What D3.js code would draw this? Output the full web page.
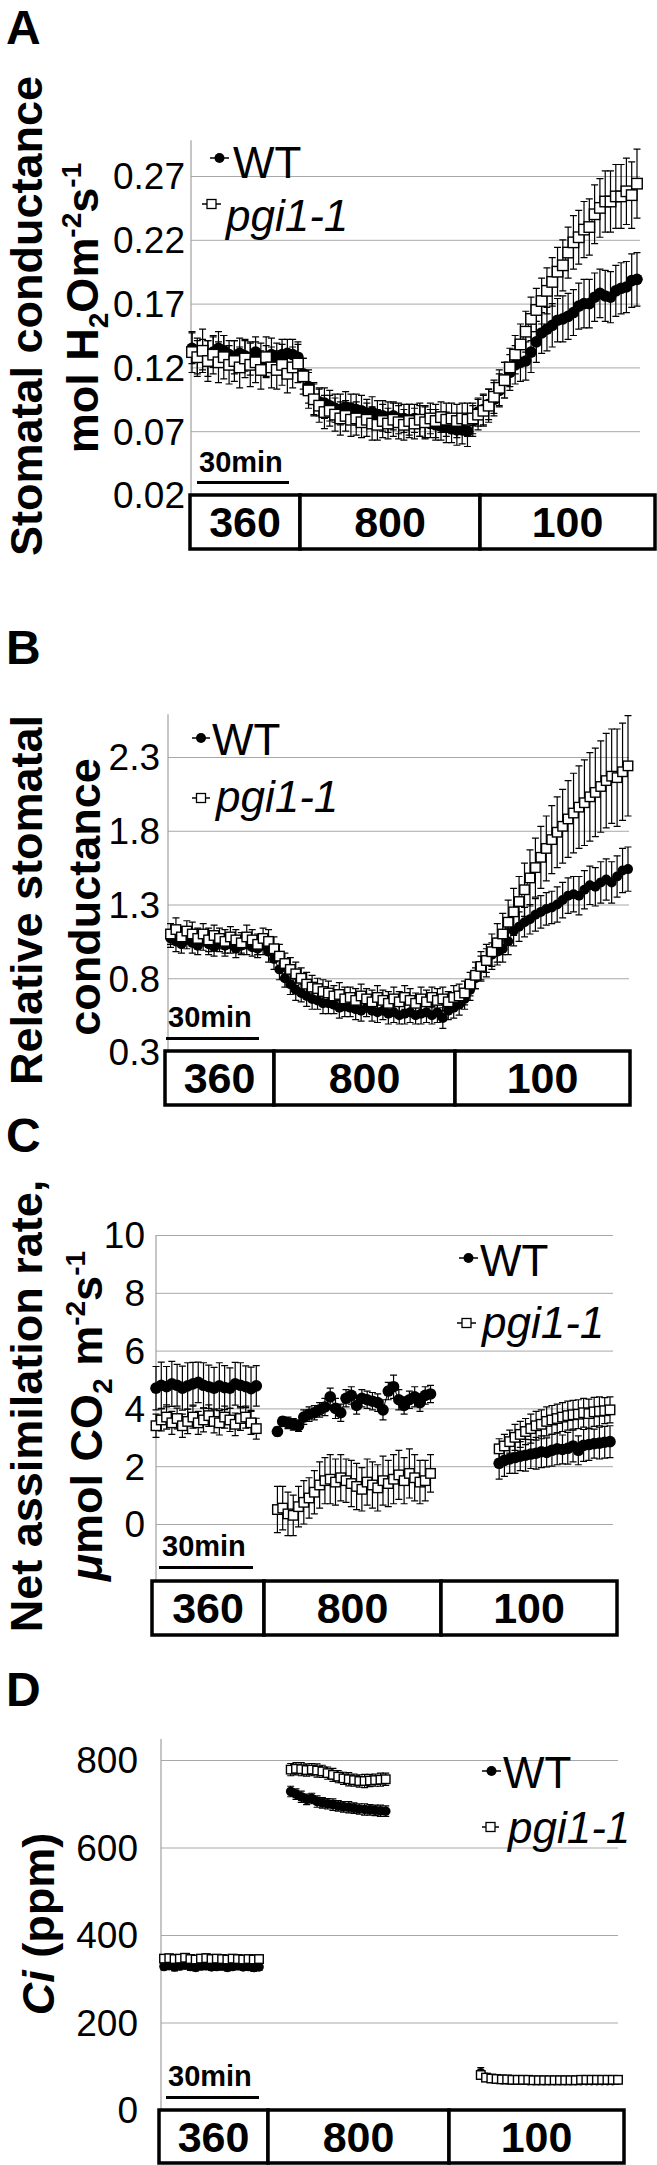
<!DOCTYPE html>
<html><head><meta charset="utf-8">
<script src="https://cdn.jsdelivr.net/npm/d3@7"></script>
<style>body{margin:0;background:#fff}svg{display:block}</style>
</head><body><svg id="c" width="657" height="2165"></svg>
<script>
// ---------------- DATA ----------------
const co2Labels = ["360", "800", "100"];
const seriesNames = ["WT", "pgi1-1"];
const ticksA = [0.02, 0.07, 0.12, 0.17, 0.22, 0.27];
const ticksB = [0.3, 0.8, 1.3, 1.8, 2.3];
const ticksC = [0, 2, 4, 6, 8, 10];
const ticksD = [0, 200, 400, 600, 800];

// Panel A: stomatal conductance (85 samples)
const A_wt = [0.135,0.128,0.130,0.127,0.132,0.135,0.133,0.130,0.128,0.131,0.129,0.127,0.132,0.128,0.125,0.130,0.127,0.130,0.131,0.130,0.128,
0.115,0.105,0.095,0.093,0.092,0.090,0.088,0.087,0.089,0.088,0.087,0.086,0.084,0.085,0.083,0.082,0.081,0.082,0.080,0.080,0.079,0.080,0.078,0.077,0.076,0.075,0.074,0.073,0.072,0.071,0.071,0.070,0.078,0.085,
0.087,0.091,0.095,0.102,0.110,0.116,0.122,0.124,0.125,0.132,0.140,0.147,0.150,0.153,0.157,0.158,0.160,0.163,0.168,0.170,0.170,0.175,0.178,0.176,0.175,0.180,0.182,0.183,0.188,0.189];
const A_wt_err = [0.012,0.013,0.012,0.014,0.012,0.013,0.012,0.011,0.013,0.012,0.012,0.013,0.012,0.011,0.012,0.013,0.012,0.012,0.011,0.012,0.012,
0.012,0.013,0.012,0.011,0.012,0.012,0.011,0.012,0.012,0.011,0.012,0.012,0.011,0.012,0.011,0.012,0.012,0.011,0.012,0.011,0.012,0.011,0.012,0.012,0.011,0.012,0.011,0.012,0.011,0.012,0.011,0.012,0.012,0.011,
0.012,0.012,0.013,0.013,0.014,0.014,0.015,0.015,0.015,0.016,0.016,0.016,0.017,0.017,0.017,0.018,0.018,0.018,0.018,0.019,0.019,0.019,0.019,0.020,0.020,0.020,0.020,0.020,0.021,0.021];
const A_pgi = [0.132,0.128,0.133,0.125,0.130,0.124,0.128,0.122,0.125,0.120,0.127,0.122,0.124,0.118,0.128,0.120,0.118,0.122,0.115,0.120,0.123,
0.113,0.102,0.095,0.090,0.085,0.086,0.083,0.080,0.082,0.079,0.080,0.077,0.079,0.076,0.075,0.078,0.076,0.079,0.077,0.075,0.078,0.076,0.079,0.077,0.080,0.078,0.081,0.079,0.080,0.078,0.080,0.079,0.080,0.083,
0.086,0.090,0.097,0.104,0.110,0.120,0.130,0.138,0.148,0.158,0.165,0.172,0.180,0.187,0.195,0.200,0.210,0.218,0.222,0.228,0.230,0.240,0.245,0.250,0.250,0.254,0.254,0.258,0.255,0.264];
const A_pgi_err = [0.016,0.015,0.017,0.016,0.015,0.016,0.017,0.015,0.016,0.016,0.015,0.017,0.016,0.015,0.016,0.016,0.015,0.016,0.015,0.016,0.015,
0.014,0.014,0.013,0.013,0.013,0.012,0.013,0.013,0.012,0.013,0.013,0.012,0.013,0.013,0.012,0.013,0.012,0.013,0.013,0.012,0.013,0.012,0.013,0.013,0.012,0.013,0.012,0.013,0.012,0.013,0.012,0.013,0.012,0.012,
0.012,0.013,0.013,0.014,0.014,0.015,0.015,0.016,0.016,0.017,0.017,0.018,0.018,0.019,0.019,0.020,0.020,0.021,0.021,0.022,0.022,0.023,0.023,0.024,0.024,0.025,0.025,0.026,0.026,0.027];

// Panel B: relative stomatal conductance (85 samples)
const B_wt = [1.07,1.05,1.03,1.06,1.04,1.02,1.05,1.03,1.01,1.04,1.02,1.03,1.00,1.02,1.03,1.01,1.00,1.02,0.98,
0.93,0.86,0.80,0.76,0.72,0.70,0.68,0.66,0.65,0.63,0.63,0.62,0.60,0.61,0.60,0.59,0.58,0.60,0.58,0.57,0.58,0.56,0.57,0.55,0.56,0.57,0.55,0.56,0.57,0.55,0.57,0.53,0.58,0.60,0.62,0.66,
0.72,0.80,0.87,0.92,0.96,0.98,1.00,1.05,1.12,1.15,1.18,1.20,1.23,1.25,1.27,1.28,1.30,1.33,1.36,1.37,1.36,1.40,1.43,1.42,1.45,1.47,1.45,1.49,1.53,1.54];
const B_wt_err = [0.06,0.07,0.06,0.06,0.07,0.06,0.06,0.07,0.06,0.06,0.07,0.06,0.06,0.06,0.07,0.06,0.06,0.06,0.07,
0.07,0.07,0.06,0.07,0.07,0.06,0.07,0.07,0.06,0.07,0.07,0.06,0.07,0.07,0.06,0.07,0.07,0.06,0.07,0.07,0.06,0.07,0.07,0.06,0.07,0.07,0.06,0.07,0.07,0.06,0.07,0.07,0.06,0.07,0.07,0.07,
0.07,0.07,0.08,0.08,0.08,0.09,0.09,0.09,0.10,0.10,0.10,0.10,0.11,0.11,0.11,0.11,0.12,0.12,0.12,0.12,0.13,0.13,0.13,0.13,0.14,0.14,0.14,0.14,0.15,0.15];
const B_pgi = [1.10,1.13,1.08,1.12,1.10,1.07,1.10,1.06,1.09,1.07,1.05,1.08,1.06,1.04,1.08,1.06,1.03,1.07,1.05,
1.00,0.95,0.90,0.86,0.83,0.80,0.76,0.74,0.73,0.71,0.70,0.68,0.69,0.66,0.67,0.65,0.68,0.66,0.64,0.67,0.65,0.63,0.66,0.64,0.67,0.65,0.63,0.66,0.64,0.67,0.65,0.66,0.64,0.67,0.68,0.70,
0.76,0.82,0.88,0.92,0.98,1.04,1.10,1.18,1.25,1.32,1.40,1.48,1.55,1.62,1.68,1.74,1.79,1.83,1.88,1.92,1.96,1.99,2.03,2.06,2.10,2.14,2.17,2.16,2.20,2.24];
const B_pgi_err = [0.07,0.08,0.07,0.07,0.08,0.07,0.07,0.08,0.07,0.07,0.08,0.07,0.07,0.07,0.08,0.07,0.07,0.07,0.08,
0.08,0.08,0.07,0.08,0.08,0.07,0.08,0.08,0.07,0.08,0.08,0.07,0.08,0.08,0.07,0.08,0.08,0.07,0.08,0.08,0.07,0.08,0.08,0.07,0.08,0.08,0.07,0.08,0.08,0.07,0.08,0.08,0.07,0.08,0.08,0.08,
0.08,0.09,0.10,0.11,0.12,0.13,0.14,0.15,0.16,0.17,0.18,0.19,0.20,0.21,0.22,0.23,0.24,0.25,0.26,0.27,0.28,0.29,0.30,0.30,0.31,0.32,0.32,0.33,0.33,0.34];

// Panel C: net assimilation rate, three separate segments (start sample index of each)
const C_segStart = [0, 23, 65];
const C_wt = [
 [4.70,4.80,4.75,4.85,4.80,4.70,4.78,4.85,4.90,4.80,4.75,4.70,4.78,4.72,4.70,4.85,4.80,4.75,4.68,4.78],
 [3.20,3.55,3.50,3.45,3.40,3.70,3.80,3.85,3.95,4.05,4.40,4.00,3.85,4.35,4.45,4.10,4.35,4.30,4.25,4.20,3.95,4.60,4.75,4.30,4.10,4.30,4.40,4.20,4.45,4.50],
 [2.10,2.20,2.25,2.30,2.35,2.38,2.42,2.45,2.50,2.48,2.55,2.60,2.58,2.62,2.70,2.55,2.72,2.75,2.78,2.80,2.83,2.85]];
const C_wt_err = [
 [0.75,0.80,0.70,0.78,0.72,0.76,0.80,0.74,0.70,0.78,0.75,0.72,0.80,0.76,0.70,0.74,0.78,0.72,0.75,0.70],
 [0.15,0.15,0.20,0.20,0.20,0.25,0.25,0.25,0.25,0.30,0.30,0.35,0.30,0.30,0.30,0.30,0.30,0.30,0.30,0.30,0.35,0.30,0.40,0.35,0.30,0.30,0.35,0.30,0.30,0.30],
 [0.55,0.55,0.50,0.55,0.50,0.55,0.50,0.55,0.55,0.50,0.55,0.55,0.50,0.55,0.55,0.50,0.55,0.55,0.50,0.55,0.55,0.55]];
const C_pgi = [
 [3.40,3.60,3.70,3.50,3.65,3.40,3.55,3.70,3.50,3.60,3.75,3.55,3.50,3.70,3.60,3.45,3.65,3.70,3.50,3.30],
 [0.50,0.55,0.35,0.30,0.60,0.75,0.90,1.10,1.35,1.50,1.55,1.45,1.60,1.50,1.40,1.30,1.20,1.45,1.35,1.25,1.50,1.40,1.55,1.70,1.50,1.75,1.60,1.45,1.50,1.75],
 [2.60,2.70,2.85,3.00,3.10,3.20,3.30,3.40,3.45,3.55,3.60,3.65,3.70,3.75,3.78,3.80,3.85,3.82,3.88,3.90,3.92,3.95]];
const C_pgi_err = [
 [0.40,0.38,0.42,0.40,0.36,0.40,0.42,0.38,0.40,0.41,0.37,0.40,0.42,0.38,0.40,0.39,0.41,0.38,0.40,0.36],
 [0.80,0.75,0.75,0.70,0.70,0.75,0.70,0.75,0.80,0.80,0.85,0.80,0.80,0.75,0.80,0.80,0.75,0.80,0.80,0.80,0.85,0.80,0.85,0.85,0.80,0.85,0.80,0.75,0.70,0.65],
 [0.35,0.40,0.40,0.45,0.45,0.45,0.50,0.50,0.50,0.50,0.50,0.50,0.50,0.50,0.50,0.50,0.50,0.50,0.50,0.50,0.45,0.45]];

// Panel D: Ci (ppm), three segments
const D_segStart = [0, 24, 60];
const D_wt = [
 [328,330,327,329,331,328,326,329,330,327,328,329,326,328,330,327,328,326,327],
 [728,722,716,710,712,705,702,700,698,695,693,692,690,688,687,686,685,684,683],
 [85,75,72,70,69,69,68,68,68,67,67,67,67,67,67,67,67,67,67,67,67,67,67,67,67,67,68]];
const D_wt_err = [
 [8,8,9,8,8,9,8,8,9,8,8,9,8,8,9,8,8,9,8],
 [12,12,13,12,12,13,12,12,13,12,12,13,12,12,13,12,12,13,12],
 [12,8,6,6,5,5,5,5,5,5,5,5,5,5,5,5,5,5,5,5,5,5,5,5,5,5,5]];
const D_pgi = [
 [346,347,345,346,348,345,344,346,347,345,346,345,344,346,345,344,345,344,345],
 [778,780,779,777,778,776,774,770,766,762,758,756,754,752,752,753,754,755,756],
 [80,74,72,71,70,70,69,69,69,69,68,68,68,68,68,68,68,68,68,69,69,69,69,69,69,69,69]];
const D_pgi_err = [
 [9,9,10,9,9,10,9,9,10,9,9,10,9,9,10,9,9,10,9],
 [14,14,15,14,14,15,14,14,15,14,14,15,14,14,15,14,14,15,14],
 [10,7,6,6,6,6,6,6,6,6,6,6,6,6,6,6,6,6,6,6,6,6,6,6,6,6,6]];

// ---------------- DRAWING ----------------
const FONT = '"Liberation Sans", Arial, Helvetica, sans-serif';
const svg = d3.select('#c');

function segs(starts, vals, errs) {
  return vals.map((arr, s) => arr.map((v, i) => ({i: starts[s] + i, v: v, e: errs[s][i]})));
}
function contSeg(vals, errs) {
  return [vals.map((v, i) => ({i: i, v: v, e: errs[i]}))];
}

function drawSeries(g, x, y, segments, type, ms) {
  const sg = g.append('g');
  segments.forEach(seg => {
    sg.append('g').selectAll('path').data(seg).join('path')
      .attr('d', d => {
        const cx = x(d.i), t = y(d.v + d.e), b = y(d.v - d.e);
        return `M${cx},${t}V${b}M${cx - 3.5},${t}h7M${cx - 3.5},${b}h7`;
      })
      .attr('stroke', '#000').attr('stroke-width', 1.2).attr('fill', 'none');
    sg.append('path').datum(seg)
      .attr('d', d3.line().x(d => x(d.i)).y(d => y(d.v)))
      .attr('stroke', '#000').attr('stroke-width', 1).attr('fill', 'none');
    if (type === 'wt') {
      sg.append('g').selectAll('circle').data(seg).join('circle')
        .attr('cx', d => x(d.i)).attr('cy', d => y(d.v)).attr('r', ms.r).attr('fill', '#000');
    } else {
      sg.append('g').selectAll('rect').data(seg).join('rect')
        .attr('x', d => x(d.i) - ms.s / 2).attr('y', d => y(d.v) - ms.s / 2)
        .attr('width', ms.s).attr('height', ms.s)
        .attr('fill', '#fff').attr('stroke', '#000').attr('stroke-width', 1.4);
    }
  });
}

function drawPanel(P) {
  const g = svg.append('g');
  const y = d3.scaleLinear().domain([P.ticks[0], P.ticks[P.ticks.length - 1]]).range(P.yRange);
  const x = d3.scaleLinear().domain(P.xDomain).range(P.xRange);

  // gridlines + tick labels through d3 axis
  const ax = g.append('g').attr('transform', `translate(${P.axisX},0)`)
    .call(d3.axisLeft(y).tickValues(P.ticks).tickFormat(P.fmt)
      .tickSizeInner(-(P.gridRight - P.axisX)).tickSizeOuter(0).tickPadding(P.pad));
  ax.select('.domain').remove();
  ax.attr('font-family', FONT).attr('font-size', 37);
  ax.selectAll('.tick line').attr('stroke', '#a8a8a8').attr('stroke-width', 1);
  ax.selectAll('.tick text').attr('fill', '#000').attr('dy', '0.35em');
  // axis line
  g.append('line').attr('x1', P.axisX).attr('x2', P.axisX)
    .attr('y1', y(P.axisTop)).attr('y2', y(P.axisBottom))
    .attr('stroke', '#a0a0a0').attr('stroke-width', 1.2);

  // series
  drawSeries(g, x, y, P.wt, 'wt', P.ms);
  drawSeries(g, x, y, P.pgi, 'pgi', P.ms);

  // panel letter
  g.append('text').attr('x', 6).attr('y', P.letterY).text(P.letter)
    .attr('font-family', FONT).attr('font-weight', 'bold').attr('font-size', 48);

  // y-axis title lines
  P.titles.forEach(t => {
    const tx = g.append('text').attr('transform', `translate(${t.x},${t.y}) rotate(-90)`)
      .attr('text-anchor', 'middle').attr('font-family', FONT).attr('font-weight', 'bold')
      .attr('font-size', 45);
    t.parts.forEach(p => {
      const ts = tx.append('tspan').text(p.t);
      if (p.it) ts.attr('font-style', 'italic');
      if (p.sub) ts.attr('font-size', 28).attr('dy', 10);
      if (p.sup) ts.attr('font-size', 28).attr('dy', -17);
      if (p.back) ts.attr('dy', p.back);
    });
  });

  // legend
  const Lg = P.legend;
  [0, 1].forEach(k => {
    const it = Lg[k];
    g.append('line').attr('x1', it.x1).attr('x2', it.x2).attr('y1', it.my).attr('y2', it.my)
      .attr('stroke', '#000').attr('stroke-width', 1.5);
    const cx = (it.x1 + it.x2) / 2;
    if (k === 0) g.append('circle').attr('cx', cx).attr('cy', it.my).attr('r', 5).attr('fill', '#000');
    else g.append('rect').attr('x', cx - 4.5).attr('y', it.my - 4.5).attr('width', 9).attr('height', 9)
      .attr('fill', '#fff').attr('stroke', '#000').attr('stroke-width', 1.3);
    g.append('text').attr('x', it.tx).attr('y', it.ty).text(seriesNames[k])
      .attr('font-family', FONT).attr('font-size', 44).attr('font-style', k === 1 ? 'italic' : 'normal');
  });

  // 30 min scale bar
  g.append('text').attr('x', P.bar.tx).attr('y', P.bar.ty).text('30min')
    .attr('font-family', FONT).attr('font-weight', 'bold').attr('font-size', 29);
  g.append('rect').attr('x', P.bar.x).attr('y', P.bar.y).attr('width', P.bar.w).attr('height', 3).attr('fill', '#000');

  // CO2 condition box
  const B = P.box;
  g.selectAll('rect.cell').data(co2Labels).join('rect').attr('class', 'cell')
    .attr('x', (d, i) => B.xs[i]).attr('y', B.top)
    .attr('width', (d, i) => B.xs[i + 1] - B.xs[i]).attr('height', B.bottom - B.top)
    .attr('fill', '#fff').attr('stroke', '#000').attr('stroke-width', 3.5);
  g.selectAll('text.cell').data(co2Labels).join('text').attr('class', 'cell')
    .attr('x', (d, i) => (B.xs[i] + B.xs[i + 1]) / 2).attr('y', (B.top + B.bottom) / 2 + 15)
    .attr('text-anchor', 'middle').attr('font-family', FONT).attr('font-weight', 'bold')
    .attr('font-size', 43).text(d => d);
}

const panels = [
 { letter: 'A', letterY: 44, ticks: ticksA, fmt: d3.format('.2f'), yRange: [495, 176], axisTop: 0.298, axisBottom: 0.02,
   axisX: 191, gridRight: 640, pad: 6, xDomain: [0, 84], xRange: [192, 637],
   wt: contSeg(A_wt, A_wt_err), pgi: contSeg(A_pgi, A_pgi_err), ms: {r: 5.8, s: 10.5},
   titles: [
     {x: 42, y: 316, parts: [{t: 'Stomatal conductance'}]},
     {x: 98, y: 308, parts: [{t: 'mol H'}, {t: '2', sub: 1}, {t: 'Om', back: -10}, {t: '-2', sup: 1}, {t: 's', back: 17}, {t: '-1', sup: 1}]}],
   legend: [{x1: 210, x2: 229, my: 158, tx: 233, ty: 178}, {x1: 202, x2: 221, my: 204, tx: 226, ty: 231}],
   bar: {tx: 199, ty: 472, x: 197, y: 481, w: 92},
   box: {xs: [190, 300, 480, 655], top: 495, bottom: 549} },
 { letter: 'B', letterY: 664, ticks: ticksB, fmt: d3.format('.1f'), yRange: [1052, 757], axisTop: 2.59, axisBottom: 0.3,
   axisX: 168, gridRight: 629, pad: 8, xDomain: [0, 84], xRange: [170.5, 628],
   wt: contSeg(B_wt, B_wt_err), pgi: contSeg(B_pgi, B_pgi_err), ms: {r: 5, s: 9.5},
   titles: [
     {x: 42, y: 900, parts: [{t: 'Relative stomatal'}]},
     {x: 100, y: 897, parts: [{t: 'conductance'}]}],
   legend: [{x1: 192, x2: 210, my: 738, tx: 212, ty: 755}, {x1: 192, x2: 210, my: 798, tx: 216, ty: 812}],
   bar: {tx: 168, ty: 1027, x: 166, y: 1037, w: 93},
   box: {xs: [165, 274, 455, 630], top: 1051, bottom: 1105} },
 { letter: 'C', letterY: 1152, ticks: ticksC, fmt: d3.format('d'), yRange: [1524, 1235], axisTop: 10, axisBottom: -2,
   axisX: 156, gridRight: 613, pad: 11, xDomain: [0, 86], xRange: [156, 610],
   wt: segs(C_segStart, C_wt, C_wt_err), pgi: segs(C_segStart, C_pgi, C_pgi_err), ms: {r: 5.8, s: 9.5},
   titles: [
     {x: 42, y: 1406, parts: [{t: 'Net assimilation rate,'}]},
     {x: 102, y: 1416, parts: [{t: 'μ', it: 1}, {t: 'mol CO'}, {t: '2', sub: 1}, {t: ' m', back: -10}, {t: '-2', sup: 1}, {t: 's', back: 17}, {t: '-1', sup: 1}]}],
   legend: [{x1: 459, x2: 478, my: 1258, tx: 480, ty: 1276}, {x1: 457, x2: 476, my: 1323, tx: 482, ty: 1338}],
   bar: {tx: 162, ty: 1556, x: 159, y: 1566, w: 94},
   box: {xs: [152, 264, 441, 617], top: 1581, bottom: 1635} },
 { letter: 'D', letterY: 1706, ticks: ticksD, fmt: d3.format('d'), yRange: [2110, 1760], axisTop: 848, axisBottom: 0,
   axisX: 161, gridRight: 618, pad: 23, xDomain: [0, 86], xRange: [164, 618],
   wt: segs(D_segStart, D_wt, D_wt_err), pgi: segs(D_segStart, D_pgi, D_pgi_err), ms: {r: 4.8, s: 8.5},
   titles: [
     {x: 54, y: 1924, parts: [{t: 'Ci', it: 1}, {t: ' (ppm)'}]}],
   legend: [{x1: 482, x2: 501, my: 1771, tx: 503, ty: 1788}, {x1: 482, x2: 499, my: 1827, tx: 508, ty: 1843}],
   bar: {tx: 168, ty: 2086, x: 166, y: 2096, w: 93},
   box: {xs: [159, 268, 449, 624], top: 2110, bottom: 2163} }
];
panels.forEach(drawPanel);
</script></body></html>
